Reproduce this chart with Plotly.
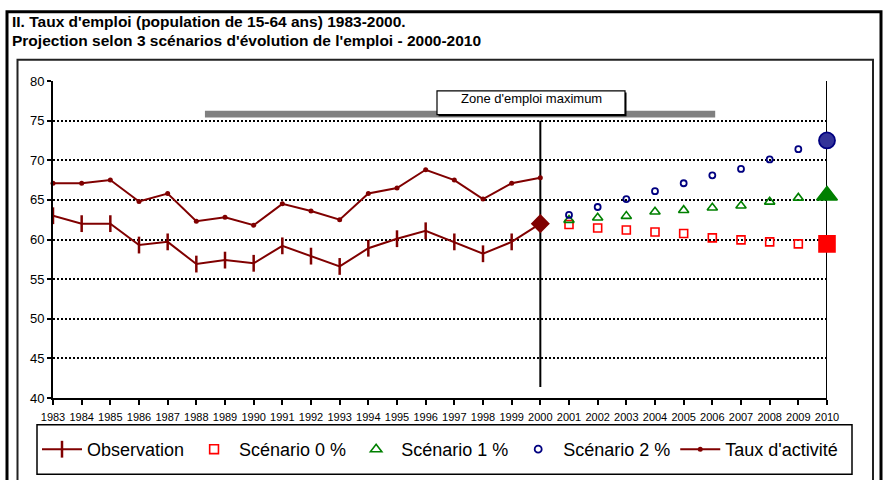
import plotly.graph_objects as go

# ---- data -------------------------------------------------------------
years_obs = list(range(1983, 2001))
observation = [63.0, 62.0, 62.0, 59.3, 59.7, 56.9, 57.4, 57.0, 59.2, 57.9,
               56.6, 58.9, 60.1, 61.1, 59.7, 58.2, 59.7, 62.0]
taux_activite = [67.1, 67.1, 67.5, 64.8, 65.8, 62.3, 62.8, 61.8, 64.5, 63.6,
                 62.5, 65.8, 66.5, 68.8, 67.5, 65.1, 67.1, 67.8]

years_proj = list(range(2001, 2011))
scenario_0 = [61.9, 61.45, 61.2, 60.95, 60.75, 60.2, 59.95, 59.7, 59.45, 59.45]
scenario_1 = [62.45, 62.75, 62.95, 63.5, 63.7, 64.0, 64.25, 64.75, 65.25, 65.55]
scenario_2 = [63.1, 64.1, 65.1, 66.1, 67.1, 68.1, 68.9, 70.1, 71.4, 72.5]

x_ticks = list(range(1983, 2011))
y_ticks = list(range(40, 81, 5))

zone_span = (1988.3, 2006.1)      # grey band for the max-employment zone
zone_label = "Zone d'emploi maximum"

# ---- layout geometry (pixels) ----------------------------------------
W, H = 883, 480
L, R, T, B = 53, 827, 81, 401


def px(x):
    return (x - L) / (R - L)


def py(y):
    return (B - y) / (B - T)


MAROON = "#800000"
FONT = "Liberation Sans, Arial, Helvetica, sans-serif"

fig = go.Figure()

# Observed employment rate
fig.add_trace(go.Scatter(
    x=years_obs, y=observation, name="Observation",
    mode="lines+markers",
    line=dict(color=MAROON, width=2),
    marker=dict(symbol=["line-ns-open"] * (len(years_obs) - 1) + ["diamond"],
                size=[12] * (len(years_obs) - 1) + [12],
                color=MAROON, opacity=1,
                line=dict(color=MAROON, width=2.5)),
    cliponaxis=False,
))


# Scenarios: small open markers, filled large marker for 2010
def scenario(name, ys, symbol, color, fill, small, big, lw):
    n = len(ys)
    return go.Scatter(
        x=years_proj, y=ys, name=name, mode="markers",
        marker=dict(symbol=[symbol + "-open"] * (n - 1) + [symbol],
                    size=[small] * (n - 1) + [big],
                    color=[color] * (n - 1) + [fill], opacity=1,
                    line=dict(color=color, width=lw)),
        cliponaxis=False,
    )


fig.add_trace(scenario("Scénario 0 %", scenario_0, "square", "#FF0000", "#FF0000", 8, 16, 1.6))
fig.add_trace(scenario("Scénario 1 %", scenario_1, "triangle-up", "#008000", "#008000", 9, 18, 1.6))
fig.add_trace(scenario("Scénario 2 %", scenario_2, "circle", "#000080", "#333399", 6, 16, 1.8))

# Activity rate
fig.add_trace(go.Scatter(
    x=years_obs, y=taux_activite, name="Taux d'activité",
    mode="lines+markers",
    line=dict(color=MAROON, width=2),
    marker=dict(symbol="circle", size=5, color=MAROON, opacity=1),
    cliponaxis=False,
))

shapes = [
    # outer frame
    dict(type="rect", xref="paper", yref="paper",
         x0=px(7), x1=px(881), y0=py(11), y1=py(495),
         line=dict(color="black", width=3)),
    # inner chart frame
    dict(type="rect", xref="paper", yref="paper",
         x0=px(17.5), x1=px(873), y0=py(59.5), y1=py(495),
         line=dict(color="#222222", width=2)),
    # legend frame
    dict(type="rect", xref="paper", yref="paper",
         x0=px(37), x1=px(852), y0=py(428), y1=py(478),
         line=dict(color="black", width=1.5)),
    # right border of plot area
    dict(type="line", xref="x", yref="y", x0=2010, x1=2010, y0=40, y1=80,
         line=dict(color="black", width=2), layer="between"),
    # end of observation period
    dict(type="line", xref="x", yref="y", x0=2000, x1=2000, y0=41.4, y1=75,
         line=dict(color="black", width=2), layer="between"),
    # max-employment band
    dict(type="rect", xref="x", yref="y", x0=zone_span[0], x1=zone_span[1],
         y0=75.4, y1=76.25, fillcolor="#808080", line=dict(width=0)),
    # label box shadow + box
    dict(type="rect", xref="paper", yref="paper",
         x0=px(438.5), x1=px(626.5), y0=py(92.5), y1=py(116.5),
         fillcolor="black", line=dict(width=0)),
    dict(type="rect", xref="paper", yref="paper",
         x0=px(437), x1=px(625), y0=py(91), y1=py(115),
         fillcolor="white", line=dict(color="black", width=1.2)),
]

annotations = [
    dict(text="II. Taux d'emploi (population de 15-64 ans) 1983-2000.",
         xref="paper", yref="paper", x=px(10), y=py(20.5),
         xanchor="left", yanchor="middle", showarrow=False,
         font=dict(family=FONT, size=15.5, color="black", weight="bold")),
    dict(text="Projection selon 3 scénarios d'évolution de l'emploi - 2000-2010",
         xref="paper", yref="paper", x=px(10), y=py(40.5),
         xanchor="left", yanchor="middle", showarrow=False,
         font=dict(family=FONT, size=15.5, color="black", weight="bold")),
    dict(text=zone_label, xref="paper", yref="paper",
         x=px(531), y=py(98.5), xanchor="center", yanchor="middle",
         showarrow=False,
         font=dict(family=FONT, size=13, color="black")),
]

fig.update_layout(
    width=W, height=H,
    margin=dict(l=L, r=W - R, t=T, b=H - B, pad=0),
    paper_bgcolor="white", plot_bgcolor="white",
    font=dict(family=FONT, color="black"),
    shapes=shapes, annotations=annotations,
    showlegend=True,
    legend=dict(orientation="h", x=px(37), y=py(453), xanchor="left",
                yanchor="middle", font=dict(family=FONT, size=18, color="black"),
                bgcolor="rgba(0,0,0,0)", borderwidth=0, itemwidth=40,
                traceorder="normal"),
    xaxis=dict(range=[1983, 2010], tickmode="array", tickvals=x_ticks,
               ticktext=[str(v) for v in x_ticks],
               showgrid=False, zeroline=False,
               showline=True, linecolor="black", linewidth=2,
               ticks="outside", ticklen=5, tickwidth=1.5, tickcolor="black",
               ticklabelstandoff=3,
               tickfont=dict(family=FONT, size=11, color="black")),
    yaxis=dict(range=[40, 80], tickmode="array", tickvals=y_ticks,
               showgrid=True, gridcolor="black", gridwidth=1.6,
               griddash="2px,2px", zeroline=False,
               showline=True, linecolor="black", linewidth=2,
               ticks="outside", ticklen=4, tickwidth=1.5, tickcolor="black",
               tickfont=dict(family=FONT, size=13, color="black")),
)

fig.write_html("out.html")
